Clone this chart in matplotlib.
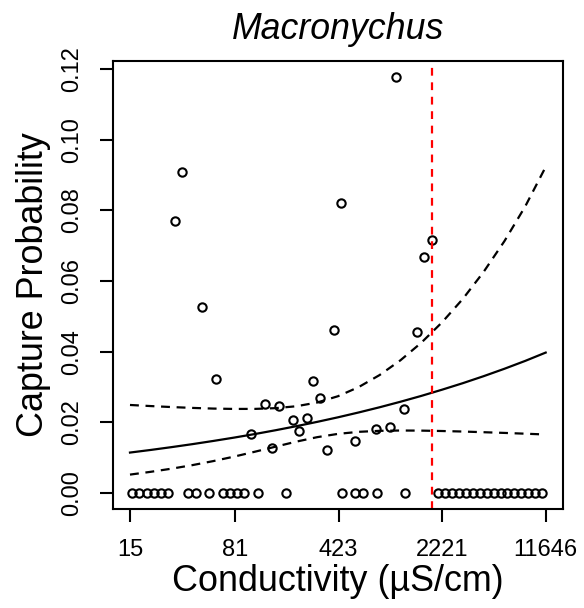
import numpy as np
import matplotlib.pyplot as plt

plt.rcParams['font.family'] = ['Liberation Sans', 'DejaVu Sans']

# sites where the genus was caught (conductivity in uS/cm, capture probability)
cond_hit = [30.7, 34.3, 47.7, 59.4, 104.0, 129.5, 144.8, 161.9, 202.6, 225.2,
            253.5, 281.7, 315.1, 352.5, 394.3, 438.8, 551.4, 768.0, 955.8, 1069,
            1196, 1487, 1664, 1879]
prob_hit = [0.0770, 0.0910, 0.0528, 0.0323, 0.0166, 0.0251, 0.0127, 0.0248, 0.0206, 0.0177,
            0.0214, 0.0317, 0.0268, 0.0123, 0.0463, 0.0821, 0.0148, 0.0182, 0.0186, 0.1177,
            0.0239, 0.0456, 0.0668, 0.0716]

# sites with no captures
cond_zero = [15.6, 17.4, 19.6, 22.0, 24.6, 27.6, 37.8, 42.9, 53.3, 66.7,
             74.7, 83.5, 93.4, 116.8, 181.1, 446.0, 552.7, 624.2, 777.2, 1216,
             2072, 2307, 2580, 2886, 3228, 3610, 4038, 4516, 5051, 5650,
             6319, 7068, 7905, 8842, 9889, 11061]

# fitted curve and confidence band
cond_fit = [15.0, 20.9, 29.2, 40.7, 56.8, 79.3, 110.6, 154.3, 215.3, 300.4,
            419.1, 584.6, 815.6, 1138, 1588, 2215, 3091, 4313, 6018, 8398, 11646]
prob_fit = [0.01148, 0.01222, 0.01302, 0.01386, 0.01476, 0.01571, 0.01672, 0.01780, 0.01895, 0.02017,
            0.02146, 0.02284, 0.02430, 0.02586, 0.02751, 0.02927, 0.03112, 0.03310, 0.03520, 0.03743, 0.03978]
prob_upper = [0.02495, 0.02464, 0.02436, 0.02412, 0.02393, 0.02383, 0.02384, 0.02405, 0.02459, 0.02565,
              0.02743, 0.03003, 0.03342, 0.03759, 0.04255, 0.04833, 0.05497, 0.06262, 0.07133, 0.08117, 0.09234]
prob_lower = [0.00524, 0.00603, 0.00692, 0.00792, 0.00906, 0.01033, 0.01171, 0.01315, 0.01458, 0.01584,
              0.01677, 0.01735, 0.01763, 0.01772, 0.01769, 0.01758, 0.01743, 0.01724, 0.01704, 0.01682, 0.01659]

cond_max = 1879  # highest conductivity with a capture
xticks = [15, 81, 423, 2221, 11646]
yticks = [0.00, 0.02, 0.04, 0.06, 0.08, 0.10, 0.12]

fig = plt.figure(figsize=(5.84, 6.08), dpi=100)
ax = fig.add_axes([0.1935, 0.1628, 0.7705, 0.7368])

ax.plot(cond_zero, np.zeros(len(cond_zero)), 'o', mfc='none', mec='black', ms=6.0, mew=1.5)
ax.plot(cond_hit, prob_hit, 'o', mfc='none', mec='black', ms=6.0, mew=1.5)

ax.plot(cond_fit, prob_fit, color='black', lw=1.6)
ax.plot(cond_fit, prob_upper, color='black', lw=1.6, dashes=(4, 3))
ax.plot(cond_fit, prob_lower, color='black', lw=1.6, dashes=(4, 3))
ax.axvline(cond_max, color='red', lw=1.6, dashes=(3.5, 3))

ax.set_xscale('log')
ax.set_xlim(11.43, 15360)
ax.set_ylim(-0.0045, 0.1223)
ax.set_xticks(xticks)
ax.set_xticklabels([str(t) for t in xticks])
ax.minorticks_off()
ax.set_yticks(yticks)
ax.set_yticklabels(['%.2f' % t for t in yticks], rotation=90, va='center')

ax.tick_params(direction='out', length=9.5, width=1.5, labelsize=17, color='black')
ax.tick_params(axis='x', pad=12)
ax.tick_params(axis='y', pad=12)
for s in ax.spines.values():
    s.set_linewidth(1.5)

ax.set_xlabel('Conductivity (µS/cm)', fontsize=25.8, labelpad=2)
ax.set_ylabel('Capture Probability', fontsize=25.8, labelpad=7)
ax.set_title('Macronychus', fontsize=25.7, style='italic', pad=16)

fig.savefig('out.png', dpi=100)
